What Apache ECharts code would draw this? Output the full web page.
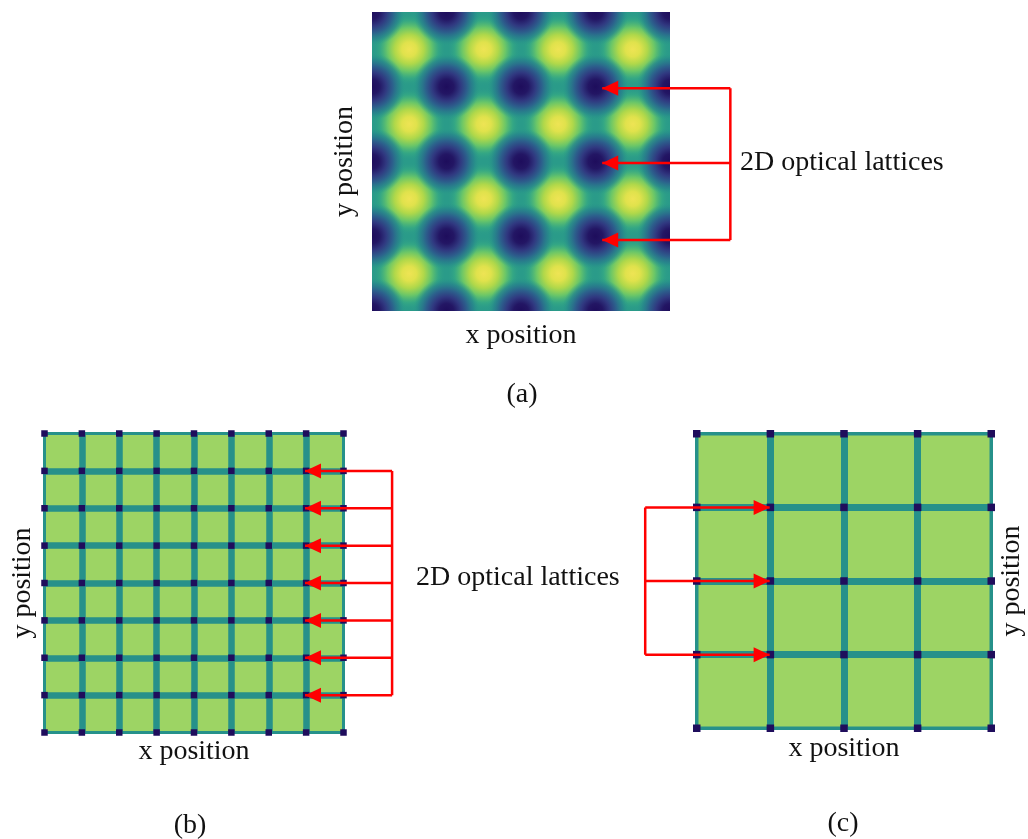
<!DOCTYPE html>
<html><head><meta charset="utf-8">
<script src="https://cdn.jsdelivr.net/npm/echarts@6/dist/echarts.min.js"></script>
<style>html,body{margin:0;padding:0;background:#fff}#c{width:1028px;height:839px}</style>
</head><body><div id="c"></div>
<script>
// ---------- Panel (a): smooth 2D optical lattice (lattice units) ----------
const peakX = [0.5, 1.5, 2.5, 3.5];        // bright maxima columns
const peakY = [0.5, 1.5, 2.5, 3.5];        // bright maxima rows
const troughX = [0, 1, 2, 3, 4];           // dark minima columns
const troughY = [0, 1, 2, 3, 4];           // dark minima rows
const arrowRowsA = [2.98, 1.98, 0.95];     // rows the arrows point to
const arrowTipA = 3.09;
const bracketA = 4.81;

// ---------- Panel (b): fine square lattice ----------
const linesB = [0, 1, 2, 3, 4, 5, 6, 7, 8];
const arrowRowsB = [7, 6, 5, 4, 3, 2, 1];
const arrowTipB = 6.97;
const bracketB = 9.3;

// ---------- Panel (c): coarse square lattice ----------
const linesC = [0, 1, 2, 3, 4];
const arrowRowsC = [3, 2, 1];
const arrowTipC = 0.99;
const bracketC = -0.7;

// ---------- styling ----------
const FONT = 'Liberation Serif';
const TXT = '#111111';
const RED = '#ff0000';
const TEAL = '#26918a';
const SADDLE = '#2a9b89';
const GREEN = '#9dd464';
const DARK = '#1f0d5c';

const chart = echarts.init(document.getElementById('c'), null, {renderer: 'canvas'});

const peakStops = [
  {offset: 0.0, color: 'rgba(238,228,84,1)'},
  {offset: 0.2, color: 'rgba(224,226,76,1)'},
  {offset: 0.4, color: 'rgba(176,216,74,1)'},
  {offset: 0.6, color: 'rgba(106,198,104,1)'},
  {offset: 0.8, color: 'rgba(56,172,130,0.7)'},
  {offset: 1.0, color: 'rgba(42,155,137,0)'}
];
const troughStops = [
  {offset: 0.0, color: 'rgba(30,13,92,1)'},
  {offset: 0.22, color: 'rgba(35,22,100,1)'},
  {offset: 0.42, color: 'rgba(48,56,128,1)'},
  {offset: 0.62, color: 'rgba(44,96,140,1)'},
  {offset: 0.82, color: 'rgba(38,130,140,0.7)'},
  {offset: 1.0, color: 'rgba(42,155,137,0)'}
];

const blobData = [];
peakX.forEach(x => peakY.forEach(y => blobData.push([x, y, 1])));
troughX.forEach(x => troughY.forEach(y => blobData.push([x, y, 0])));

function renderBlob(params, api) {
  const c = api.coord([api.value(0), api.value(1)]);
  const isPeak = api.value(2) > 0.5;
  const r = api.size([isPeak ? 0.49 : 0.45, 0])[0];
  return {
    type: 'circle',
    shape: {cx: c[0], cy: c[1], r: r},
    style: {fill: new echarts.graphic.RadialGradient(0.5, 0.5, 0.5, isPeak ? peakStops : troughStops)}
  };
}

const nameStyle = {fontFamily: FONT, fontSize: 28, color: TXT};
const noAxis = {axisLine: {show: false}, axisTick: {show: false}, axisLabel: {show: false}};

function latticeAxis(gridIndex, max, lineW, extra) {
  return Object.assign({
    type: 'value', gridIndex, min: 0, max, interval: 1,
    splitLine: {show: true, showMinLine: false, showMaxLine: false,
                lineStyle: {color: TEAL, width: lineW}},
    nameLocation: 'middle', nameTextStyle: nameStyle
  }, noAxis, extra);
}
function hiddenAxis(gridIndex, min, max) {
  return {type: 'value', gridIndex, min, max, show: false, splitLine: {show: false}};
}

function arrowSeries(ai, rows, tip, bracket, rotate, offset) {
  const out = [];
  rows.forEach(y => {
    out.push({
      type: 'line', xAxisIndex: ai, yAxisIndex: ai, silent: true,
      animation: false, z: 5,
      symbol: 'triangle', symbolSize: [15, 16], symbolRotate: rotate, symbolOffset: [offset, 0],
      showSymbol: true,
      lineStyle: {color: RED, width: 2.5},
      itemStyle: {color: RED, opacity: 1},
      data: [{value: [bracket, y], symbol: 'none'}, [tip, y]]
    });
  });
  out.push({
    type: 'line', xAxisIndex: ai, yAxisIndex: ai, silent: true,
    animation: false, z: 5, symbol: 'none',
    lineStyle: {color: RED, width: 2.5},
    data: [[bracket, Math.max.apply(null, rows)], [bracket, Math.min.apply(null, rows)]]
  });
  return out;
}

function crossings(lines) {
  const d = [];
  lines.forEach(x => lines.forEach(y => d.push([x, y])));
  return d;
}

const option = {
  animation: false,
  backgroundColor: '#ffffff',
  grid: [
    {left: 372, top: 12, width: 298, height: 299, show: true, backgroundColor: SADDLE, borderWidth: 0},
    {left: 44.5, top: 433.5, width: 299, height: 299, show: true, backgroundColor: GREEN,
     borderWidth: 3, borderColor: TEAL},
    {left: 696.75, top: 433.75, width: 294.5, height: 294.5, show: true, backgroundColor: GREEN,
     borderWidth: 3.5, borderColor: TEAL},
    // annotation layers sharing the panel scales, widened to reach the brackets
    {left: 372, top: 12, width: 372.5, height: 299, show: false},
    {left: 44.5, top: 433.5, width: 373.75, height: 299, show: false},
    {left: 623.125, top: 433.75, width: 368.125, height: 294.5, show: false}
  ],
  xAxis: [
    Object.assign({type: 'value', gridIndex: 0, min: 0, max: 4, splitLine: {show: false},
      name: 'x position', nameLocation: 'middle', nameGap: 11, nameTextStyle: nameStyle}, noAxis),
    latticeAxis(1, 8, 6.5, {name: 'x position', nameGap: 5}),
    latticeAxis(2, 4, 7, {name: 'x position', nameGap: 6}),
    hiddenAxis(3, 0, 5),
    hiddenAxis(4, 0, 10),
    hiddenAxis(5, -1, 4)
  ],
  yAxis: [
    Object.assign({type: 'value', gridIndex: 0, min: 0, max: 4, splitLine: {show: false},
      name: 'y position', nameLocation: 'middle', nameGap: 13, nameTextStyle: nameStyle}, noAxis),
    latticeAxis(1, 8, 6.5, {name: 'y position', nameGap: 8}),
    latticeAxis(2, 4, 7, {name: 'y position', nameGap: 6, position: 'right'}),
    hiddenAxis(3, 0, 4),
    hiddenAxis(4, 0, 8),
    hiddenAxis(5, 0, 4)
  ],
  series: [
    {type: 'custom', xAxisIndex: 0, yAxisIndex: 0, clip: true, silent: true,
     renderItem: renderBlob, data: blobData, z: 1},
    {type: 'scatter', xAxisIndex: 1, yAxisIndex: 1, symbol: 'rect', symbolSize: 6.5,
     itemStyle: {color: DARK, opacity: 1}, silent: true, data: crossings(linesB), z: 3},
    {type: 'scatter', xAxisIndex: 2, yAxisIndex: 2, symbol: 'rect', symbolSize: 7.5,
     itemStyle: {color: DARK, opacity: 1}, silent: true, data: crossings(linesC), z: 3}
  ]
    .concat(arrowSeries(3, arrowRowsA, arrowTipA, bracketA, 90, 8))
    .concat(arrowSeries(4, arrowRowsB, arrowTipB, bracketB, 90, 8))
    .concat(arrowSeries(5, arrowRowsC, arrowTipC, bracketC, -90, -8)),
  graphic: [
    {type: 'text', x: 740, y: 163, style: {text: '2D optical lattices', font: '28px "Liberation Serif"', fill: TXT, align: 'left', verticalAlign: 'middle'}},
    {type: 'text', x: 416, y: 578, style: {text: '2D optical lattices', font: '28px "Liberation Serif"', fill: TXT, align: 'left', verticalAlign: 'middle'}},
    {type: 'text', x: 522, y: 395, style: {text: '(a)', font: '28px "Liberation Serif"', fill: TXT, align: 'center', verticalAlign: 'middle'}},
    {type: 'text', x: 190, y: 826, style: {text: '(b)', font: '28px "Liberation Serif"', fill: TXT, align: 'center', verticalAlign: 'middle'}},
    {type: 'text', x: 843, y: 824, style: {text: '(c)', font: '28px "Liberation Serif"', fill: TXT, align: 'center', verticalAlign: 'middle'}}
  ]
};
chart.setOption(option);
</script>
</body></html>
